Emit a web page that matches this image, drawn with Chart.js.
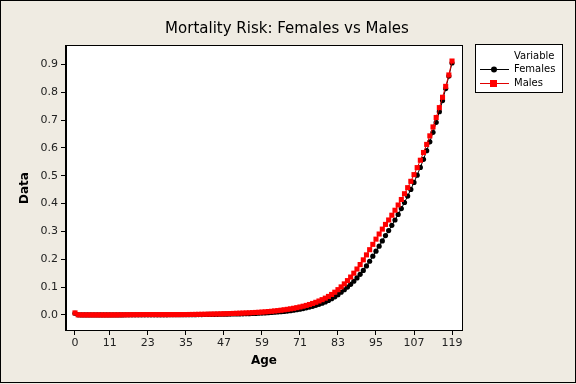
<!DOCTYPE html>
<html>
<head>
<meta charset="utf-8">
<script src="https://cdn.jsdelivr.net/npm/chart.js@4"></script>
<style>
  html, body { margin: 0; padding: 0; background: #efebe2; }
</style>
</head>
<body>
<canvas id="myChart" width="576" height="384"></canvas>
<script>
const ages = [
  0, 1, 2, 3, 4, 5, 6, 7, 8, 9, 10, 11, 12, 13, 14, 15, 16, 17, 18, 19,
  20, 21, 22, 23, 24, 25, 26, 27, 28, 29, 30, 31, 32, 33, 34, 35, 36, 37, 38, 39,
  40, 41, 42, 43, 44, 45, 46, 47, 48, 49, 50, 51, 52, 53, 54, 55, 56, 57, 58, 59,
  60, 61, 62, 63, 64, 65, 66, 67, 68, 69, 70, 71, 72, 73, 74, 75, 76, 77, 78, 79,
  80, 81, 82, 83, 84, 85, 86, 87, 88, 89, 90, 91, 92, 93, 94, 95, 96, 97, 98, 99,
  100, 101, 102, 103, 104, 105, 106, 107, 108, 109, 110, 111, 112, 113, 114, 115, 116, 117, 118, 119
];

const females = [
  0.0061, 0.0004, 0.0003, 0.0002, 0.0002, 0.0001, 0.0001, 0.0001, 0.0001, 0.0001,
  0.0001, 0.0001, 0.0001, 0.0002, 0.0002, 0.0003, 0.0004, 0.0004, 0.0005, 0.0005,
  0.0005, 0.0005, 0.0005, 0.0005, 0.0005, 0.0005, 0.0006, 0.0006, 0.0006, 0.0006,
  0.0007, 0.0007, 0.0007, 0.0008, 0.0009, 0.0009, 0.0010, 0.0011, 0.0012, 0.0013,
  0.0015, 0.0016, 0.0018, 0.0019, 0.0021, 0.0023, 0.0025, 0.0027, 0.0029, 0.0031,
  0.0034, 0.0036, 0.0039, 0.0042, 0.0045, 0.0048, 0.0052, 0.0056, 0.0061, 0.0067,
  0.0073, 0.0081, 0.0089, 0.0097, 0.0106, 0.0116, 0.0128, 0.0141, 0.0155, 0.0171,
  0.0189, 0.0209, 0.0231, 0.0255, 0.0282, 0.0312, 0.0345, 0.0383, 0.0424, 0.0470,
  0.0522, 0.0582, 0.0651, 0.0729, 0.0816, 0.0905, 0.1000, 0.1100, 0.1210, 0.1330,
  0.1460, 0.1600, 0.1760, 0.1930, 0.2110, 0.2290, 0.2470, 0.2660, 0.2850, 0.3030,
  0.3220, 0.3410, 0.3610, 0.3820, 0.4040, 0.4270, 0.4510, 0.4760, 0.5020, 0.5300,
  0.5590, 0.5900, 0.6220, 0.6560, 0.6920, 0.7300, 0.7700, 0.8130, 0.8580, 0.9050
];

const males = [
  0.0074, 0.0005, 0.0003, 0.0003, 0.0002, 0.0002, 0.0002, 0.0002, 0.0001, 0.0001,
  0.0001, 0.0001, 0.0002, 0.0003, 0.0004, 0.0006, 0.0007, 0.0008, 0.0010, 0.0011,
  0.0012, 0.0013, 0.0014, 0.0014, 0.0014, 0.0014, 0.0013, 0.0013, 0.0013, 0.0013,
  0.0013, 0.0013, 0.0014, 0.0014, 0.0015, 0.0016, 0.0017, 0.0018, 0.0020, 0.0022,
  0.0024, 0.0026, 0.0028, 0.0031, 0.0034, 0.0037, 0.0040, 0.0043, 0.0047, 0.0051,
  0.0055, 0.0059, 0.0064, 0.0068, 0.0073, 0.0078, 0.0084, 0.0090, 0.0096, 0.0104,
  0.0112, 0.0122, 0.0132, 0.0144, 0.0156, 0.0170, 0.0186, 0.0202, 0.0220, 0.0240,
  0.0262, 0.0287, 0.0314, 0.0343, 0.0376, 0.0413, 0.0455, 0.0501, 0.0550, 0.0604,
  0.0666, 0.0737, 0.0818, 0.0909, 0.1008, 0.1116, 0.1234, 0.1362, 0.1500, 0.1650,
  0.1810, 0.1980, 0.2158, 0.2344, 0.2536, 0.2723, 0.2907, 0.3083, 0.3252, 0.3411,
  0.3582, 0.3761, 0.3949, 0.4147, 0.4354, 0.4572, 0.4800, 0.5040, 0.5292, 0.5557,
  0.5835, 0.6126, 0.6433, 0.6754, 0.7092, 0.7447, 0.7819, 0.8210, 0.8620, 0.9120
];

const xTicks = [0, 11, 23, 35, 47, 59, 71, 83, 95, 107, 119];
const yTicks = [0, 0.1, 0.2, 0.3, 0.4, 0.5, 0.6, 0.7, 0.8, 0.9];

const FONT = "'DejaVu Sans', sans-serif";
const BG = "#efebe2";

const frame = {
  id: "frame",
  beforeDraw(chart) {
    const { ctx, chartArea: a } = chart;
    ctx.save();
    ctx.fillStyle = BG;
    ctx.fillRect(0, 0, chart.width, chart.height);
    ctx.fillStyle = "#ffffff";
    ctx.fillRect(a.left, a.top, a.right - a.left, a.bottom - a.top);
    ctx.restore();
  },
  afterDraw(chart) {
    const { ctx, chartArea: a } = chart;
    ctx.save();
    // plot frame
    ctx.strokeStyle = "#000";
    ctx.lineWidth = 1;
    ctx.strokeRect(a.left - 0.5, a.top - 0.5, a.right - a.left + 1, a.bottom - a.top + 1);
    // outer border
    ctx.strokeRect(0.5, 0.5, chart.width - 1, chart.height - 2);

    // title
    ctx.fillStyle = "#000";
    ctx.textAlign = "center";
    ctx.textBaseline = "middle";
    ctx.font = "15px " + FONT;
    ctx.fillText("Mortality Risk: Females vs Males", 287, 29);

    // axis titles
    ctx.font = "bold 12px " + FONT;
    ctx.fillText("Age", (a.left + a.right) / 2, 361);
    ctx.save();
    ctx.translate(25, (a.top + a.bottom) / 2);
    ctx.rotate(-Math.PI / 2);
    ctx.fillText("Data", 0, 0);
    ctx.restore();

    // legend
    const lx = 475, ly = 44, lw = 87, lh = 48;
    ctx.fillStyle = "#fff";
    ctx.fillRect(lx, ly, lw, lh);
    ctx.strokeRect(lx + 0.5, ly + 0.5, lw, lh);
    ctx.fillStyle = "#000";
    ctx.font = "10px " + FONT;
    ctx.textAlign = "left";
    ctx.fillText("Variable", 514, 56);
    ctx.fillText("Females", 514, 69);
    ctx.fillText("Males", 514, 83);
    ctx.strokeStyle = "#000";
    ctx.beginPath();
    ctx.moveTo(480, 69.5); ctx.lineTo(509, 69.5); ctx.stroke();
    ctx.beginPath();
    ctx.arc(494, 69.5, 3, 0, Math.PI * 2);
    ctx.fill();
    ctx.strokeStyle = "#e00000";
    ctx.beginPath();
    ctx.moveTo(480, 83.5); ctx.lineTo(509, 83.5); ctx.stroke();
    ctx.fillStyle = "#ff0000";
    ctx.fillRect(490, 80, 7, 7);
    ctx.restore();
  }
};

const config = {
  type: "line",
  data: {
    labels: ages,
    datasets: [
      {
        label: "Males",
        data: ages.map((a, i) => ({ x: a, y: males[i] })),
        borderColor: "#e00000",
        borderWidth: 1,
        backgroundColor: "#ff0000",
        pointBackgroundColor: "#ff0000",
        pointBorderWidth: 0,
        pointStyle: "rect",
        pointRadius: 3.6,
        order: 0
      },
      {
        label: "Females",
        data: ages.map((a, i) => ({ x: a, y: females[i] })),
        borderColor: "#000000",
        borderWidth: 1,
        backgroundColor: "#000000",
        pointBackgroundColor: "#000000",
        pointBorderWidth: 0,
        pointStyle: "circle",
        pointRadius: 2.6,
        order: 1
      }
    ]
  },
  options: {
    responsive: false,
    animation: false,
    devicePixelRatio: 1,
    layout: { padding: { left: 0, top: 46, right: 114, bottom: 0 } },
    scales: {
      x: {
        type: "linear",
        min: -2.84,
        max: 122.15,
        afterBuildTicks: (axis) => { axis.ticks = xTicks.map(v => ({ value: v })); },
        afterFit: (s) => { s.height = 54; },
        grid: { drawOnChartArea: false, drawTicks: true, tickLength: 5, color: "#000" },
        border: { display: true, color: "#000" },
        ticks: { color: "#222", font: { family: FONT, size: 11 }, padding: 2, maxRotation: 0 }
      },
      y: {
        type: "linear",
        min: -0.054,
        max: 0.966,
        afterBuildTicks: (axis) => { axis.ticks = yTicks.map(v => ({ value: v })); },
        afterFit: (s) => { s.width = 66; },
        grid: { drawOnChartArea: false, drawTicks: true, tickLength: 5, color: "#000" },
        border: { display: true, color: "#000" },
        ticks: { color: "#222", font: { family: FONT, size: 11 }, padding: 3, callback: (v) => v.toFixed(1) }
      }
    },
    plugins: {
      legend: { display: false },
      tooltip: { enabled: false }
    }
  },
  plugins: [frame]
};

new Chart(document.getElementById("myChart"), config);
</script>
</body>
</html>
